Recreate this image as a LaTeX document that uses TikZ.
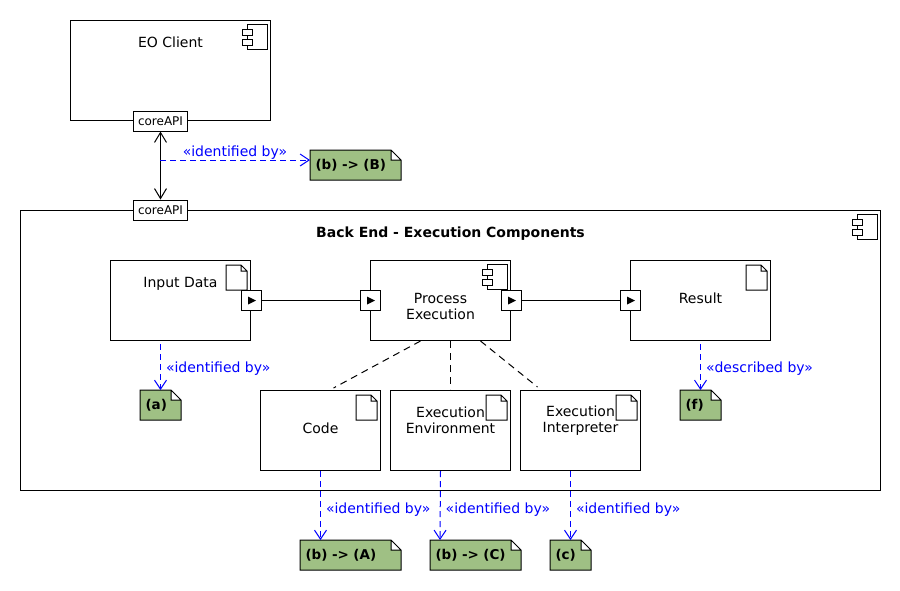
\documentclass[tikz,border=0pt]{standalone}
\usepackage{fontspec}
\setmainfont{DejaVu Sans}
\usetikzlibrary{arrows.meta,backgrounds,calc}

\definecolor{notegreen}{RGB}{159,192,132}

\begin{document}
\begin{tikzpicture}[
  x=1pt, y=-1pt,
  line width=1pt,
  font=\fontsize{14}{16}\selectfont,
  every node/.style = {inner sep=0pt},
  box/.style = {shape=rectangle, draw, anchor=north west},
  port/.style = {shape=rectangle, draw, fill=white, minimum width=20pt, minimum height=20pt},
  api/.style = {shape=rectangle, draw, fill=white, minimum width=54pt, minimum height=20pt,
    font=\fontsize{12}{14}\selectfont},
  lbl/.style = {anchor=base, align=center},
  stereo/.style = {anchor=base west, xshift=5pt, text=blue},
  note/.style = {anchor=north west, minimum height=29pt, text width=#1, align=left,
    inner xsep=5pt, font=\bfseries\fontsize{13.5}{16}\selectfont},
  notepaper/.style = {draw=black, line width=1pt, fill=notegreen},
  dep/.style = {draw=blue, dash pattern=on 6pt off 4pt, -{Straight Barb[length=9pt,width=12pt]}},
  tie/.style = {draw, dash pattern=on 7pt off 5pt},
  apitip/.tip = {Straight Barb[length=10pt,width=12pt]}
]
  \useasboundingbox (0,0) rectangle (900,590);

  \node[box, minimum width=200pt, minimum height=100pt] (eoclient) at (70,20) {};
  \node[box, minimum width=860pt, minimum height=280pt] (backend) at (20,210) {};
  \node[box, minimum width=140pt, minimum height=80pt] (inputdata) at (110,260) {};
  \node[box, minimum width=140pt, minimum height=80pt] (procexec) at (370,260) {};
  \node[box, minimum width=140pt, minimum height=80pt] (result) at (630,260) {};
  \node[box, minimum width=120pt, minimum height=80pt] (code) at (260,390) {};
  \node[box, minimum width=120pt, minimum height=80pt] (execenv) at (390,390) {};
  \node[box, minimum width=120pt, minimum height=80pt] (execinterp) at (520,390) {};

  \node[lbl] (eoclientlbl) at ([yshift=-27pt]eoclient.north) {EO Client};
  \node[lbl] (backendlbl) at ([yshift=-27pt]backend.north) {\bfseries Back End - Execution Components};
  \node[lbl] (inputdatalbl) at ([yshift=-27pt]inputdata.north) {Input Data};
  \node[lbl, anchor=center] (procexeclbl) at ([yshift=-46pt]procexec.north) {Process\\Execution};
  \node[lbl] (resultlbl) at ([yshift=-43pt]result.north) {Result};
  \node[lbl] (codelbl) at ([yshift=-43pt]code.north) {Code};
  \node[lbl, anchor=center] (execenvlbl) at ([yshift=-30pt]execenv.north) {Execution\\Environment};
  \node[lbl, anchor=center] (execinterplbl) at ([yshift=-31pt]execinterp.north) {Execution\\Interpreter};

  \foreach \b in {inputdata,result,code,execenv,execinterp}
    \draw[fill=white] ([xshift=-25pt,yshift=-5pt]\b.north east)
      -- ([xshift=-10pt,yshift=-5pt]\b.north east) -- ([xshift=-4pt,yshift=-11pt]\b.north east)
      -- ([xshift=-4pt,yshift=-30pt]\b.north east) -- ([xshift=-25pt,yshift=-30pt]\b.north east) -- cycle
      ([xshift=-10pt,yshift=-5pt]\b.north east) |- ([xshift=-4pt,yshift=-11pt]\b.north east);
  \foreach \b in {eoclient,procexec,backend} {
    \draw[fill=white] ([xshift=-24pt,yshift=-4pt]\b.north east) rectangle ([xshift=-4pt,yshift=-29pt]\b.north east);
    \draw[fill=white] ([xshift=-29pt,yshift=-9pt]\b.north east) rectangle ([xshift=-19pt,yshift=-15pt]\b.north east);
    \draw[fill=white] ([xshift=-29pt,yshift=-19pt]\b.north east) rectangle ([xshift=-19pt,yshift=-25pt]\b.north east);
  }

  \node[api] (apiTop) at ([xshift=-10pt]eoclient.south) {coreAPI};
  \node[api] (apiBot) at (apiTop.center |- backend.north) {coreAPI};
  \node[port] (pIn) at (inputdata.east) {};
  \node[port] (pPeL) at (procexec.west) {};
  \node[port] (pPeR) at (procexec.east) {};
  \node[port] (pRes) at (result.west) {};
  \foreach \p in {pIn,pPeL,pPeR,pRes}
    \fill ([xshift=-3pt,yshift=4pt]\p.center) -- ([xshift=-3pt,yshift=-4pt]\p.center)
      -- ([xshift=5pt]\p.center) -- cycle;

  \node[note=80pt] (noteB) at (310,150) {(b) -> (B)};
  \node[note=30pt] (notea) at (140,390) {(a)};
  \node[note=30pt] (notef) at (680,390) {(f)};
  \node[note=90pt] (noteA) at (300,540) {(b) -> (A)};
  \node[note=80pt] (noteC) at (430,540) {(b) -> (C)};
  \node[note=30pt] (notec) at (550,540) {(c)};
  \begin{scope}[on background layer]
    \foreach \n in {noteB,notea,notef,noteA,noteC,notec}
      \draw[notepaper] (\n.north west) -- ([xshift=-10pt]\n.north east)
        -- ([yshift=-10pt]\n.north east) -- (\n.south east) -- (\n.south west) -- cycle
        ([xshift=-10pt]\n.north east) |- ([yshift=-10pt]\n.north east);
  \end{scope}

  \draw[apitip-apitip] (apiTop) -- (apiBot);
  \draw (pIn) -- (pPeL);
  \draw (pPeR) -- (pRes);

  \draw[tie] ([xshift=-20pt]procexec.south) -- ([xshift=13pt,yshift=2pt]code.north);
  \draw[tie] (execenv.north |- procexec.south) -- ([yshift=1pt]execenv.north);
  \draw[tie] ([xshift=40pt]procexec.south) -- ([xshift=-43pt,yshift=3pt]execinterp.north);

  \coordinate (tapB) at (160,160);
  \draw[dep] (tapB) -- (tapB -| noteB.west)
    node[midway, anchor=base, yshift=4pt, text=blue] (stereoB) {«identified by»};
  \draw[dep] ($(notea.north |- inputdata.south)+(0,3)$) -- (notea.north)
    node[pos=0.61, stereo] (stereoa) {«identified by»};
  \draw[dep] ($(result.south)+(0,3)$) -- (notef.north)
    node[pos=0.61, stereo] (stereof) {«described by»};
  \draw[dep] (code.south) -- (code.south |- noteA.north)
    node[pos=0.61, stereo] (stereoA) {«identified by»};
  \draw[dep] ($(execenv.south)+(-10,0)$) -- ($(noteC.north west)+(10,0)$)
    node[pos=0.61, stereo] (stereoC) {«identified by»};
  \draw[dep] (notec.north |- execinterp.south) -- (notec.north)
    node[pos=0.61, stereo] (stereoc) {«identified by»};
\end{tikzpicture}
\end{document}
